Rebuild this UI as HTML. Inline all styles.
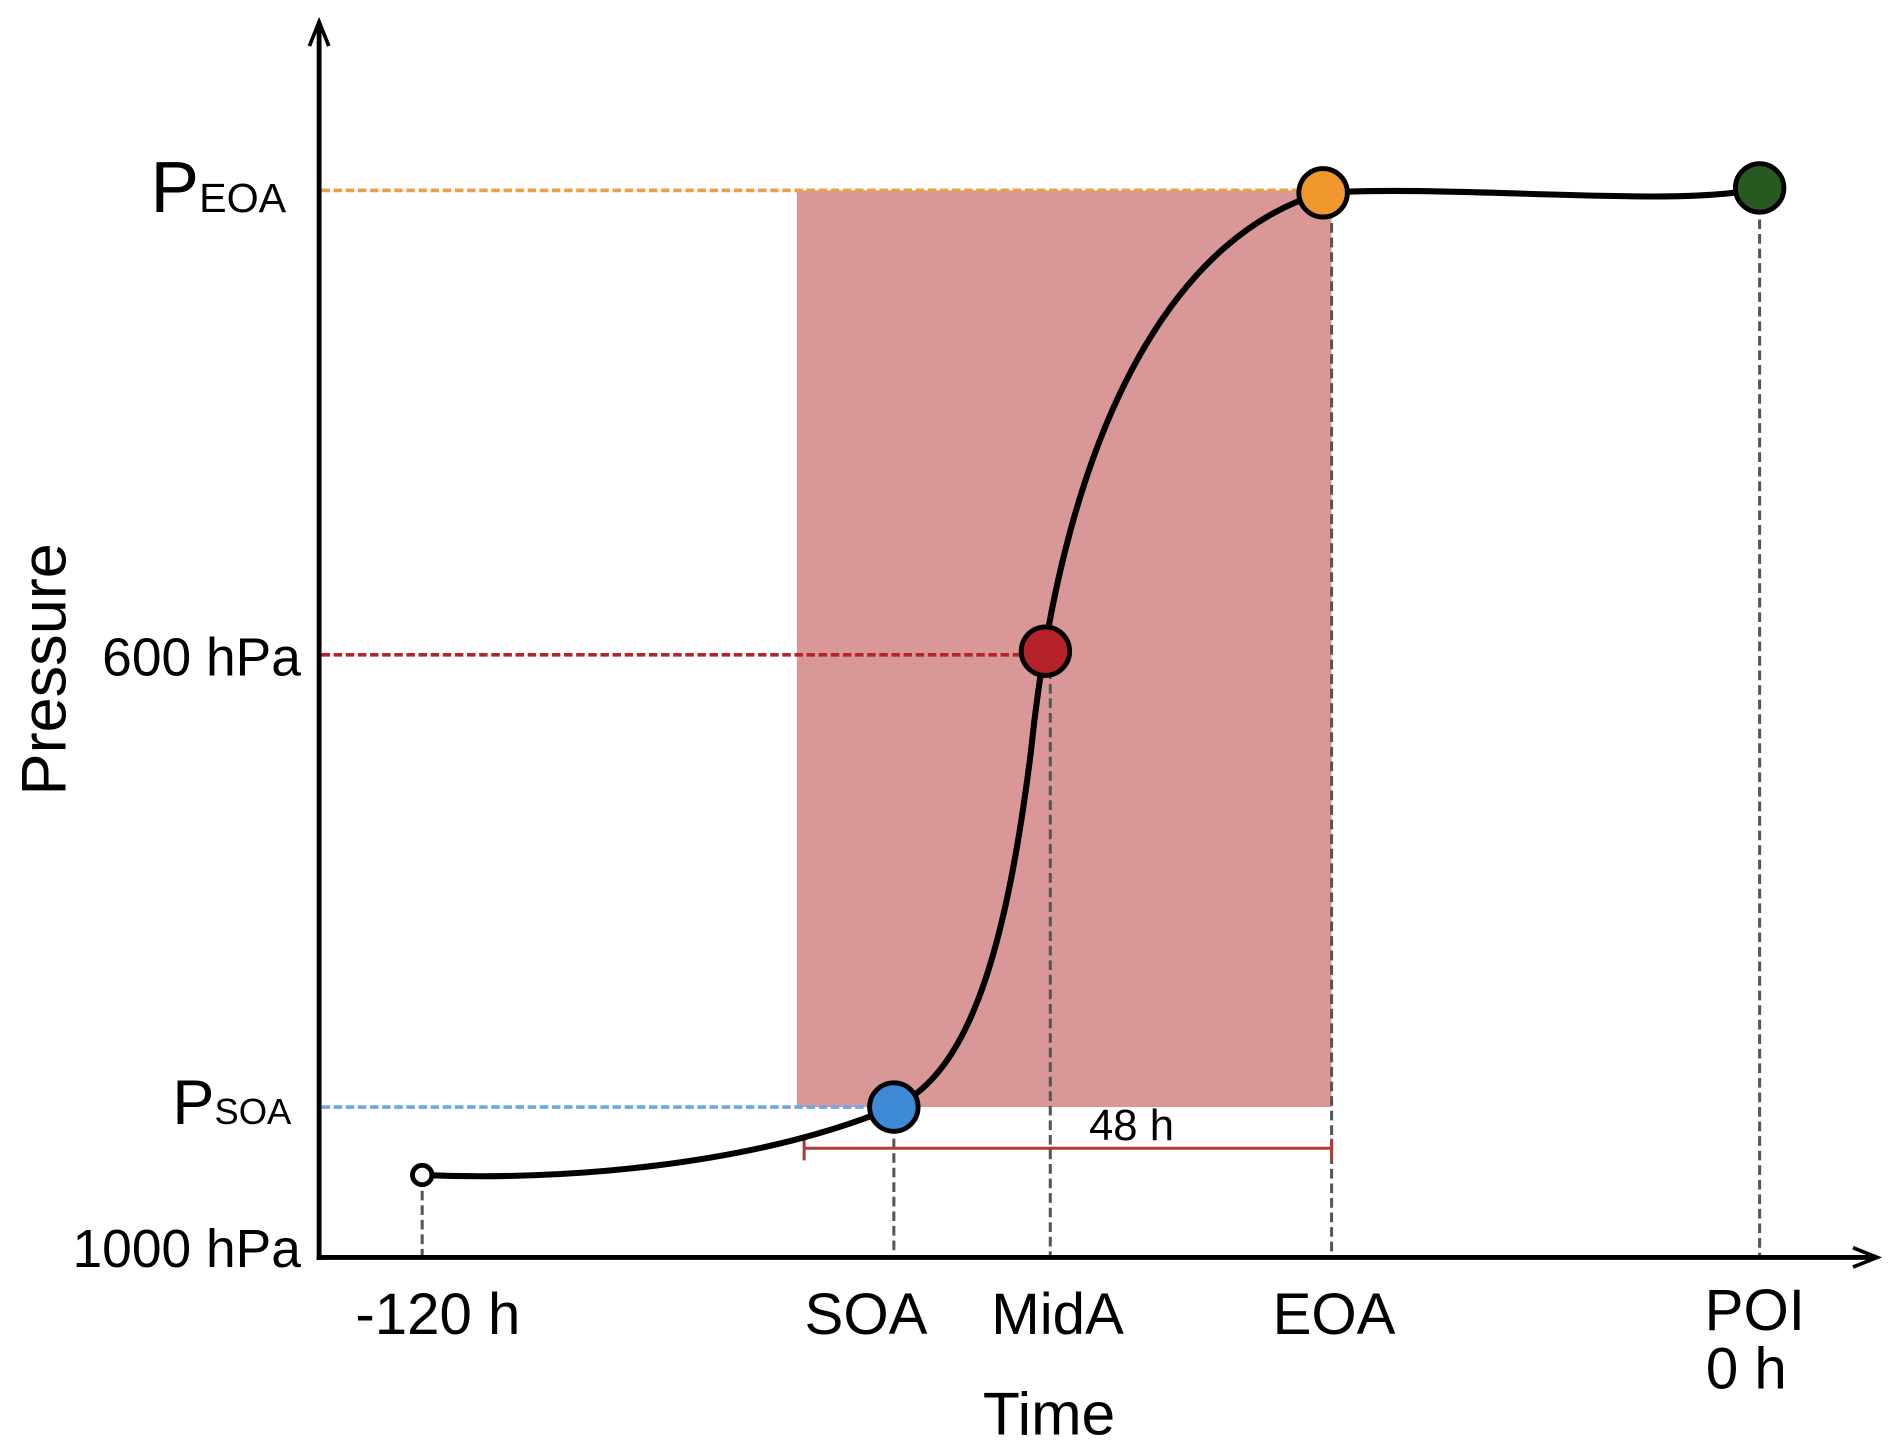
<!DOCTYPE html>
<html><head><meta charset="utf-8"><style>html,body{margin:0;padding:0;background:#fff}svg{display:block}</style></head>
<body>
<svg width="1892" height="1449" viewBox="0 0 1560 1195" xmlns="http://www.w3.org/2000/svg" font-family="Liberation Sans, Arial, sans-serif">
<rect width="1560" height="1195" fill="#fff"/>
<rect x="657" y="157" width="441" height="756" fill="#d99797"/>
<g stroke-width="3" stroke-dasharray="7,3" fill="none">
<line x1="265" y1="157" x2="1075" y2="157" stroke="#e8a050"/>
<line x1="265" y1="540" x2="845" y2="540" stroke="#b0262a"/>
<line x1="265" y1="913" x2="720" y2="913" stroke="#6aa8e8"/>
</g>
<g stroke="#555" stroke-width="2.5" stroke-dasharray="8,4" fill="none">
<line x1="348" y1="970" x2="348" y2="1037"/>
<line x1="737" y1="915" x2="737" y2="1037"/>
<line x1="866" y1="540" x2="866" y2="1037"/>
<line x1="1098" y1="160" x2="1098" y2="1037"/>
<line x1="1451" y1="157" x2="1451" y2="1037"/>
</g>
<g stroke="#b03a3a" stroke-width="2.5">
<line x1="663" y1="947" x2="1098" y2="947"/>
<line x1="663" y1="939" x2="663" y2="957"/>
<line x1="1098" y1="939" x2="1098" y2="957"/>
</g>
<text x="933" y="940" font-size="36" text-anchor="middle">48 h</text>
<path d="M348,969 C460,974 620,962 737,913 C800,885 830,780 850,620 C880,330 980,190 1091,159 C1200,152 1390,172 1451,155" stroke="#000" stroke-width="5" fill="none"/>
<circle cx="348" cy="969" r="8" fill="#fff" stroke="#000" stroke-width="4"/>
<circle cx="737" cy="913" r="20" fill="#3f8ad6" stroke="#000" stroke-width="4"/>
<circle cx="862" cy="537" r="20" fill="#b5222a" stroke="#000" stroke-width="4"/>
<circle cx="1091" cy="159" r="20" fill="#f0982e" stroke="#000" stroke-width="4"/>
<circle cx="1451" cy="155" r="20" fill="#275a1e" stroke="#000" stroke-width="4"/>
<g stroke="#000" stroke-width="4" fill="none">
<line x1="263" y1="20" x2="263" y2="1039"/>
<line x1="261" y1="1037" x2="1546" y2="1037"/>
<polyline points="255,38 263,18 271,38" stroke-width="3"/>
<polyline points="1528,1029 1548,1037 1528,1045" stroke-width="3"/>
</g>
<g font-size="48" text-anchor="middle">
<text x="361" y="1100">-120 h</text>
<text x="714" y="1100">SOA</text>
<text x="872" y="1100">MidA</text>
<text x="1100" y="1100">EOA</text>
<text x="1447" y="1097">POI</text>
<text x="1440" y="1145">0 h</text>
<text x="865" y="1183" font-size="50">Time</text>
</g>
<g text-anchor="end" font-size="44">
<text x="248" y="557">600 hPa</text>
<text x="248" y="1045">1000 hPa</text>
</g>
<text x="124" y="175" font-size="60">P<tspan font-size="34">EOA</tspan></text>
<text x="142" y="927" font-size="52">P<tspan font-size="30">SOA</tspan></text>
<text transform="translate(54,552) rotate(-90)" font-size="52" text-anchor="middle">Pressure</text>
</svg>
</body></html>
